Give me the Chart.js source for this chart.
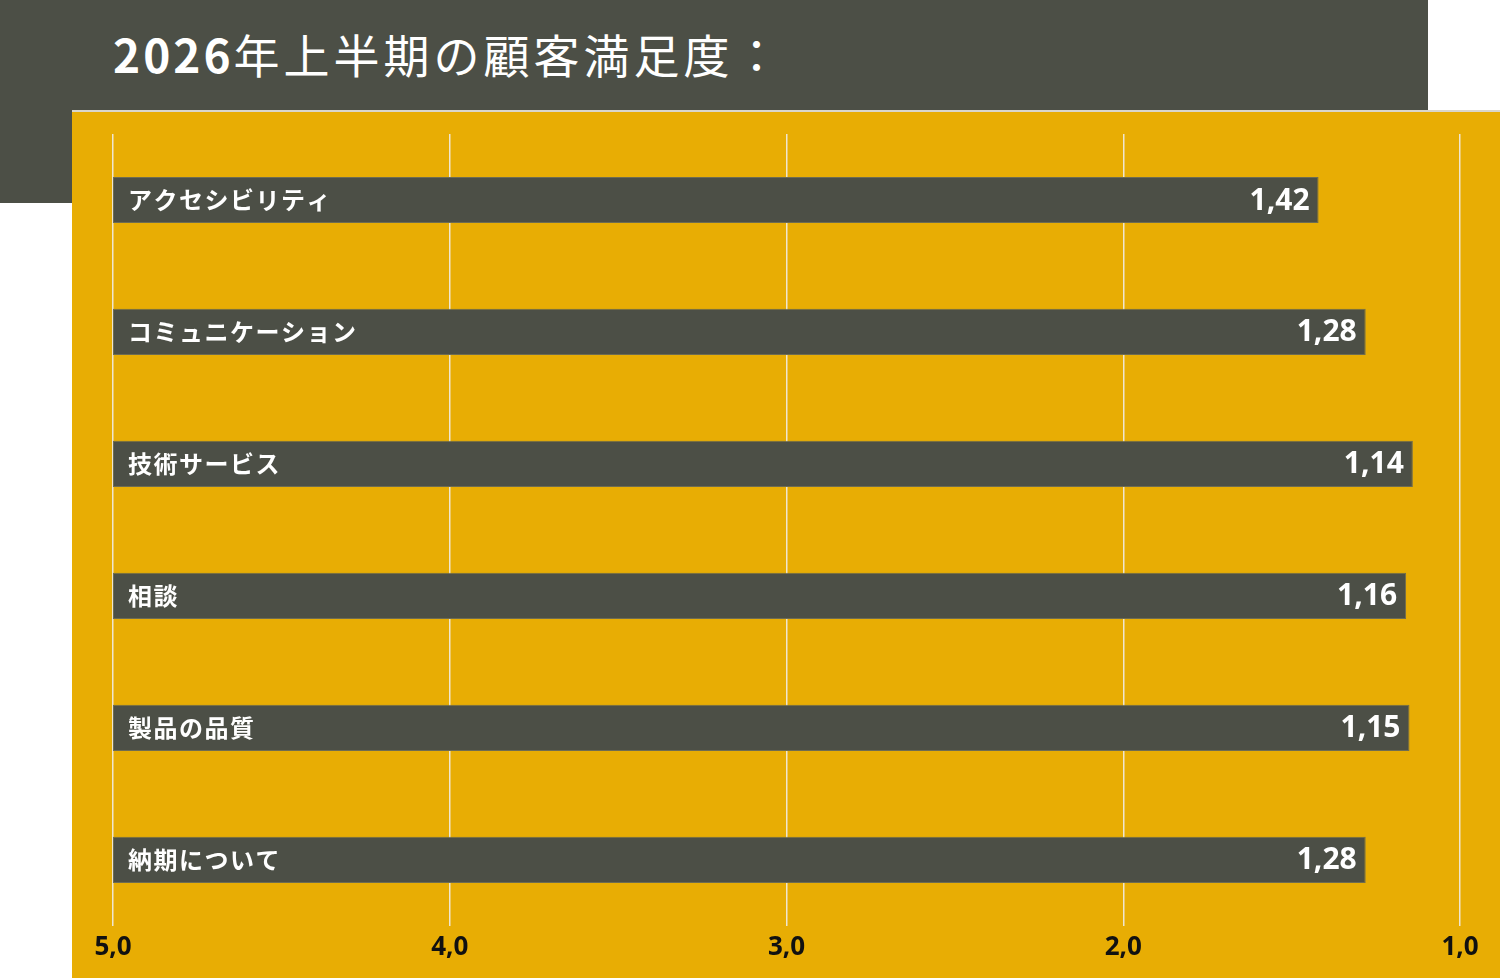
<!DOCTYPE html>
<html lang="ja">
<head>
<meta charset="utf-8">
<title>2026年上半期の顧客満足度</title>
<script src="https://cdn.jsdelivr.net/npm/chart.js@4"></script>
<style>
    html, body { margin: 0; padding: 0; background: #ffffff; }
    body { width: 1500px; height: 978px; position: relative; overflow: hidden; }
    #topPanel {
        position: absolute; left: 0; top: 0; width: 1428px; height: 203px;
        background: #4c4f46;
    }
    #title {
        position: absolute; left: 113px; top: 21px; margin: 0;
        font-family: "Noto Sans CJK JP", sans-serif; font-weight: 400;
        font-size: 46px; line-height: 64px; color: #ffffff; letter-spacing: 4px;
        white-space: nowrap;
    }
    #title .ano { font-weight: 700; letter-spacing: 3px; margin-right: 0; }
    #chartPanel {
        position: absolute; left: 72px; top: 110px; width: 1428px; height: 868px;
        background: #e8ad04; border-top: 2px solid #d9d6cc; box-sizing: border-box;
    }
    #grafico { position: absolute; left: 0; top: 0; }
</style>
</head>
<body>
<div id="topPanel"></div>
<h1 id="title"><span class="ano">2026</span>年上半期の顧客満足度：</h1>
<div id="chartPanel">
    <canvas id="grafico" width="1428" height="866"></canvas>
</div>
<script>
const categorias = ['アクセシビリティ', 'コミュニケーション', '技術サービス', '相談', '製品の品質', '納期について'];
const valores = [1.42, 1.28, 1.14, 1.16, 1.15, 1.28];
const escala = [5.0, 4.0, 3.0, 2.0, 1.0];

const corBarra = '#4c4f46';

function formatarVirgula(v, casas) {
    return v.toFixed(casas).replace('.', ',');
}

// escreve o nome da categoria e o valor dentro de cada barra
const rotulosNasBarras = {
    id: 'rotulosNasBarras',
    afterDatasetsDraw(chart) {
        const ctx = chart.ctx;
        const meta = chart.getDatasetMeta(0);
        ctx.save();
        ctx.fillStyle = '#ffffff';
        ctx.textBaseline = 'middle';
        meta.data.forEach((barra, i) => {
            const esquerda = Math.min(barra.x, barra.base);
            const direita = Math.max(barra.x, barra.base);
            ctx.font = 'bold 24px "Noto Sans CJK JP", sans-serif';
            ctx.letterSpacing = '1.5px';
            ctx.textAlign = 'left';
            ctx.fillText(categorias[i], esquerda + 15, barra.y);
            ctx.font = 'bold 30px "Open Sans", sans-serif';
            ctx.letterSpacing = '0px';
            ctx.textAlign = 'right';
            ctx.fillText(formatarVirgula(valores[i], 2), direita - 9, barra.y + 1);
        });
        ctx.restore();
    }
};

document.addEventListener('DOMContentLoaded', () => {
    const ctx = document.getElementById('grafico').getContext('2d');
    new Chart(ctx, {
        type: 'bar',
        data: {
            labels: categorias,
            datasets: [{
                label: 'Satisfação',
                data: valores.map(v => [escala[0], v]),
                backgroundColor: corBarra,
                borderColor: '#6e6c52',
                borderWidth: 1,
                borderSkipped: false,
                barPercentage: 0.35,
                categoryPercentage: 1.0
            }]
        },
        options: {
            responsive: false,
            animation: false,
            indexAxis: 'y',
            layout: {
                padding: { left: 41, right: 40, top: 22, bottom: 9 }
            },
            scales: {
                x: {
                    min: escala[escala.length - 1],
                    max: escala[0],
                    reverse: true,
                    afterBuildTicks: (axis) => {
                        axis.ticks = escala.map(v => ({ value: v }));
                    },
                    grid: {
                        color: '#efe6cf',
                        lineWidth: 1.5,
                        drawTicks: false
                    },
                    border: { display: false },
                    ticks: {
                        padding: 6,
                        color: '#111111',
                        font: { family: '"Open Sans", sans-serif', size: 26, weight: 'bold' },
                        callback: (value) => formatarVirgula(value, 1)
                    }
                },
                y: {
                    display: false,
                    grid: { display: false }
                }
            },
            plugins: {
                legend: { display: false },
                tooltip: { enabled: false }
            }
        },
        plugins: [rotulosNasBarras]
    });
});
</script>
</body>
</html>
